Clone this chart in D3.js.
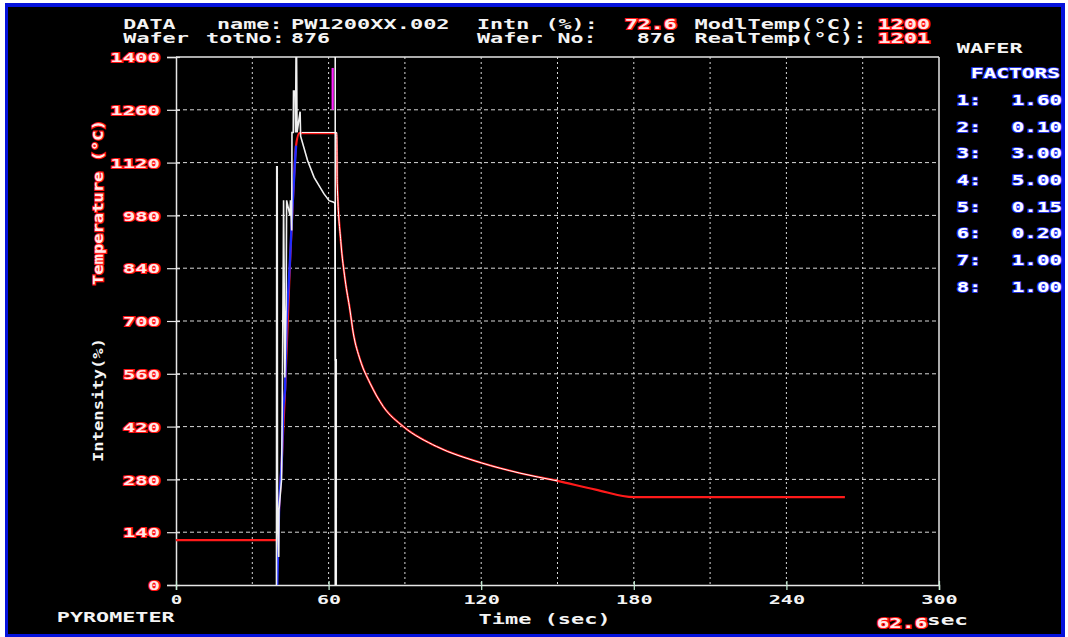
<!DOCTYPE html>
<html>
<head>
<meta charset="utf-8">
<script src="https://cdn.jsdelivr.net/npm/d3@7/dist/d3.min.js"></script>
<style>
  html, body { margin: 0; padding: 0; background: #ffffff; }
  svg { display: block; }
  text { font-family: "DejaVu Sans Mono", "Liberation Mono", monospace; font-weight: bold; }
</style>
</head>
<body>
<svg id="chart" width="1068" height="637"></svg>
<script>
// ---- run header values ----
const dataName = "PW1200XX.002";
const intnPct = "72.6";
const modlTemp = "1200";
const realTempNow = "1201";
const waferTotNo = "876";
const waferNo = "876";
const cursorTime = 62.6;

// ---- wafer factors panel ----
const factorIds = ["1", "2", "3", "4", "5", "6", "7", "8"];
const factorVals = ["1.60", "0.10", "3.00", "5.00", "0.15", "0.20", "1.00", "1.00"];

// ---- axes ----
const timeTicks = [0, 60, 120, 180, 240, 300];
const timeGrid = [30, 60, 90, 120, 150, 180, 210, 240, 270];
const valTicks = [0, 140, 280, 420, 560, 700, 840, 980, 1120, 1260, 1400];
const valGrid = [140, 280, 420, 560, 700, 840, 980, 1120, 1260];

// ---- traces: [time (sec), value] ----
// measured wafer temperature (red)
const realTemp = [
  [0, 119], [39.7, 119], [40.6, 210], [41.6, 330], [42.9, 520], [44.8, 850],
  [46.1, 1040], [47.2, 1165], [48.5, 1198], [63.2, 1198], [63.4, 1065],
  [64.8, 911], [66.5, 809], [68.4, 729], [69.7, 668], [72.4, 597],
  [76.3, 535], [81.5, 473], [89.4, 420], [102.5, 367], [120, 324],
  [135, 297], [150, 276], [165, 253], [180, 233], [263, 233]
];
// model temperature (white)
const modelTemp = [
  [49.5, 1200], [63.2, 1200], [63.4, 1065], [64.8, 911], [66.5, 809],
  [68.4, 729], [69.7, 668], [72.4, 597], [76.3, 535], [81.5, 473],
  [89.4, 420], [102.5, 367], [120, 324], [135, 297], [150, 276]
];
// ramp control trace (blue)
const rampTrace = [
  [39.8, 0], [40.6, 220], [41.6, 330], [42.2, 470], [42.9, 520], [43.5, 700],
  [44.8, 860], [45.7, 990], [46.1, 1040], [46.6, 1100], [47.2, 1165]
];
// pyrometer / intensity trace (white)
const pyroTrace = [
  [39.5, 0], [39.6, 1109], [39.8, 1109], [39.9, 200], [40.4, 74], [40.5, 200],
  [41.5, 280], [41.7, 420], [42.2, 880], [42.3, 1020], [42.8, 550], [43.3, 745],
  [43.5, 1020], [44.8, 980], [45.0, 1020], [45.5, 940], [45.6, 1200], [46.1, 1200],
  [46.2, 1310], [46.8, 1310], [47.0, 1200], [47.2, 1420], [47.4, 1420], [47.6, 1200],
  [48.8, 1255], [49.0, 1190], [51.7, 1126], [54.3, 1081], [58.2, 1037],
  [60.2, 1019], [62.0, 1015], [62.5, 1012], [62.7, 597], [63.0, 597], [63.0, 0]
];
// lamp overshoot marker (magenta)
const lampMark = [[61.6, 1371], [61.6, 1260]];

// ---- layout ----
const svg = d3.select("#chart");
const X0 = 176, X1 = 939, Y0 = 585, Y1 = 57;

const x = d3.scaleLinear().domain([0, 300]).range([X0, X1]);
const y = d3.scaleLinear().domain([0, 1400]).range([Y0, Y1]);

// frame
svg.append("rect").attr("x", 5).attr("y", 3).attr("width", 1060).attr("height", 634).attr("fill", "#0512dc");
svg.append("rect").attr("x", 8).attr("y", 7).attr("width", 1053).attr("height", 627).attr("fill", "#000000");

const CW = 13.3;
function label(x0, y0, s, style, opt) {
  opt = opt || {};
  const t = svg.append("text").attr("x", x0).attr("y", y0).text(s)
    .attr("font-size", opt.size || 14)
    .attr("text-anchor", opt.anchor || "start");
  const cw = opt.cw || CW;
  t.attr("textLength", s.length * cw - 1).attr("lengthAdjust", "spacingAndGlyphs");
  applyStyle(t, style);
  return t;
}
function applyStyle(t, style) {
  if (style === "red") {
    t.attr("fill", "#ffe8e8").attr("stroke", "#ff1414").attr("stroke-width", 2).attr("paint-order", "stroke");
  } else if (style === "blue") {
    t.attr("fill", "#ffffff").attr("stroke", "#2a3cff").attr("stroke-width", 1.6).attr("paint-order", "stroke");
  } else {
    t.attr("fill", "#f4f4f4");
  }
}

// header
label(123.3, 29, "DATA", "white");
label(217, 29, "name:", "white");
label(291, 29, dataName, "white");
label(477, 29, "Intn", "white");
label(545.5, 29, "(%):", "white");
label(624.7, 29, intnPct, "red");
label(694.6, 29, "ModlTemp(°C):", "white");
label(877.8, 29, modlTemp, "red");

label(123.3, 43, "Wafer", "white");
label(206, 43, "totNo:", "white");
label(291, 43, waferTotNo, "white");
label(477, 43, "Wafer", "white");
label(557.5, 43, "No:", "white");
label(636.7, 43, waferNo, "white");
label(694.6, 43, "RealTemp(°C):", "white");
label(877.8, 43, realTempNow, "red");

// factors panel
label(956.7, 53, "WAFER", "white", { cw: 13.4 });
label(970.7, 78.3, "FACTORS", "blue", { cw: 12.9 });
factorIds.forEach((id, i) => {
  const yy = 105 + i * 26.67;
  label(956.7, yy, id + ":", "blue", { cw: 12.8 });
  label(1062, yy, factorVals[i], "blue", { cw: 12.8, anchor: "end" });
});

// grid
const grid = svg.append("g");
grid.selectAll("line.h").data(valGrid).join("line")
  .attr("x1", X0).attr("x2", X1).attr("y1", d => y(d)).attr("y2", d => y(d))
  .attr("stroke", "#d8d8d8").attr("stroke-width", 1).attr("stroke-dasharray", "4,3");
grid.selectAll("line.v").data(timeGrid).join("line")
  .attr("x1", d => x(d)).attr("x2", d => x(d)).attr("y1", Y1).attr("y2", Y0)
  .attr("stroke", "#d8d8d8").attr("stroke-width", 1).attr("stroke-dasharray", "2,3");

// plot box (top and right edges)
svg.append("line").attr("x1", X0).attr("x2", X1).attr("y1", Y1).attr("y2", Y1)
  .attr("stroke", "#e6e6e6").attr("stroke-width", 1.5);
svg.append("line").attr("x1", X1).attr("x2", X1).attr("y1", Y1).attr("y2", Y0)
  .attr("stroke", "#e6e6e6").attr("stroke-width", 1.5);

// y axis
const yAxis = d3.axisLeft(y).tickValues(valTicks).tickSize(9).tickPadding(7).tickFormat(d3.format("d"));
const gy = svg.append("g").attr("transform", `translate(${X0},0)`).call(yAxis);
gy.select(".domain").attr("stroke", "#e6e6e6").attr("stroke-width", 1.5);
gy.selectAll(".tick line").attr("stroke", "#e6e6e6").attr("x2", -9).attr("x1", 4).attr("stroke-width", 1.2);
gy.selectAll(".tick text").each(function () {
  const t = d3.select(this);
  const s = t.text();
  t.attr("font-size", 13).attr("font-family", null).attr("dy", "0.36em")
    .attr("textLength", s.length * 12.7 - 1).attr("lengthAdjust", "spacingAndGlyphs");
  applyStyle(t, "red");
});

// x axis
const xAxis = d3.axisBottom(x).tickValues(timeTicks).tickSize(5).tickPadding(5).tickFormat(d3.format("d"));
const gx = svg.append("g").attr("transform", `translate(0,${Y0})`).call(xAxis);
gx.select(".domain").attr("stroke", "#e6e6e6").attr("stroke-width", 1.5);
gx.selectAll(".tick line").attr("stroke", "#c8f0d8").attr("y1", -4).attr("stroke-width", 1.2);
gx.selectAll(".tick text").each(function () {
  const t = d3.select(this);
  const s = t.text();
  t.attr("font-size", 13).attr("font-family", null).attr("fill", "#f4f4f4")
    .attr("textLength", s.length * 12.5 - 1).attr("lengthAdjust", "spacingAndGlyphs");
});

// axis titles
svg.append("text").attr("transform", "translate(103,202.5) rotate(-90)")
  .attr("text-anchor", "middle").attr("font-size", 14).text("Temperature (°C)")
  .attr("textLength", 165).attr("lengthAdjust", "spacingAndGlyphs")
  .call(t => applyStyle(t, "red"));
svg.append("text").attr("transform", "translate(103,400) rotate(-90)")
  .attr("text-anchor", "middle").attr("font-size", 14).text("Intensity(%)")
  .attr("textLength", 124).attr("lengthAdjust", "spacingAndGlyphs")
  .call(t => applyStyle(t, "white"));

label(56.8, 621.5, "PYROMETER", "white", { cw: 13.2 });
label(478.6, 624, "Time (sec)", "white", { cw: 13.3 });
label(876.7, 628, cursorTime.toFixed(1), "red", { cw: 12.9 });
label(927, 625, "sec", "white", { cw: 14 });

// traces
const plot = svg.append("g");
plot.append("clipPath").attr("id", "plotClip").append("rect")
  .attr("x", X0).attr("y", Y1).attr("width", X1 - X0).attr("height", Y0 - Y1);
const traces = plot.append("g").attr("clip-path", "url(#plotClip)");
const line = d3.line().x(d => x(d[0])).y(d => y(d[1]));
const smooth = d3.line().x(d => x(d[0])).y(d => y(d[1])).curve(d3.curveMonotoneX);

traces.append("path").datum(realTemp).attr("d", smooth)
  .attr("fill", "none").attr("stroke", "#ff1a1a").attr("stroke-width", 2.2);
traces.append("path").datum(modelTemp).attr("d", smooth)
  .attr("fill", "none").attr("stroke", "#ffffff").attr("stroke-width", 1);
traces.append("path").datum(rampTrace).attr("d", line)
  .attr("fill", "none").attr("stroke", "#1f2cff").attr("stroke-width", 2.4);
traces.append("path").datum(pyroTrace).attr("d", line)
  .attr("fill", "none").attr("stroke", "#f0f0f0").attr("stroke-width", 1.6);
traces.append("path").datum(lampMark).attr("d", line)
  .attr("fill", "none").attr("stroke", "#ff20ff").attr("stroke-width", 2.2);

// cursor
traces.append("line").attr("x1", x(cursorTime)).attr("x2", x(cursorTime))
  .attr("y1", Y1).attr("y2", Y0).attr("stroke", "#ffffff").attr("stroke-width", 1.5);
</script>
</body>
</html>
